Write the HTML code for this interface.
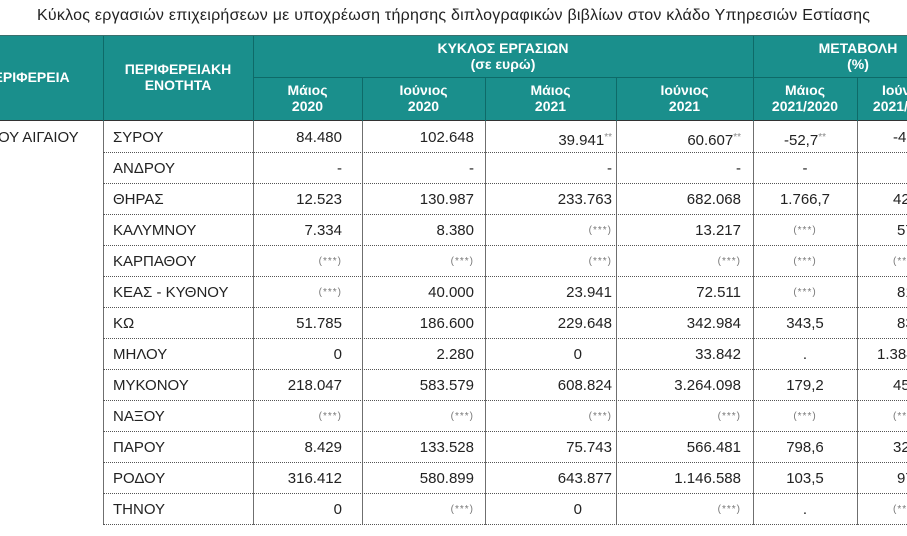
<!DOCTYPE html>
<html><head><meta charset="utf-8"><style>
body{margin:0;width:907px;height:536px;overflow:hidden;background:#fff;position:relative;font-family:"Liberation Sans",sans-serif;color:#222}
.a{position:absolute;white-space:nowrap}
.h{position:absolute;color:#fff;font-weight:bold;font-size:14px;text-align:center;line-height:16px}
.v{position:absolute;width:1px;background:#6f6f6f}
.hl{position:absolute;left:103px;width:820px;height:0;border-top:1px dotted #555}
.r{position:absolute;height:31px;line-height:31px;font-size:15px}
.s{font-size:10px;color:#888;vertical-align:5px}
.st{font-size:10px;color:#777;letter-spacing:1px}
</style></head><body>
<svg class="a" style="left:0;top:0" width="907" height="30"><text x="37" y="20" textLength="833" font-family="Liberation Sans" font-size="16" fill="#222">Κύκλος εργασιών επιχειρήσεων με υποχρέωση τήρησης διπλογραφικών βιβλίων στον κλάδο Υπηρεσιών Εστίασης</text></svg>
<div class="a" style="left:0;top:36px;width:907px;height:85px;background:#1a8f8c"></div>
<div class="a" style="left:0;top:35px;width:907px;height:1px;background:#3a6f6d"></div>
<div class="a" style="left:253px;top:77px;width:654px;height:1px;background:#0e6a68"></div>
<div class="a" style="left:0;top:120px;width:907px;height:1px;background:#333"></div>
<div class="a" style="left:103px;top:36px;width:1px;height:85px;background:#0e6a68"></div>
<div class="a" style="left:253px;top:36px;width:1px;height:85px;background:#0e6a68"></div>
<div class="a" style="left:753px;top:36px;width:1px;height:85px;background:#0e6a68"></div>
<div class="a" style="left:362px;top:78px;width:1px;height:43px;background:#0e6a68"></div>
<div class="a" style="left:485px;top:78px;width:1px;height:43px;background:#0e6a68"></div>
<div class="a" style="left:616px;top:78px;width:1px;height:43px;background:#0e6a68"></div>
<div class="a" style="left:857px;top:78px;width:1px;height:43px;background:#0e6a68"></div>
<div class="h" style="left:-50px;width:153px;top:69px">ΠΕΡΙΦΕΡΕΙΑ</div>
<div class="h" style="left:103px;width:150px;top:61px">ΠΕΡΙΦΕΡΕΙΑΚΗ<br>ΕΝΟΤΗΤΑ</div>
<div class="h" style="left:253px;width:500px;top:40px">ΚΥΚΛΟΣ ΕΡΓΑΣΙΩΝ<br>(σε ευρώ)</div>
<div class="h" style="left:753px;width:210px;top:40px">ΜΕΤΑΒΟΛΗ<br>(%)</div>
<div class="h" style="left:253px;width:109px;top:82px">Μάιος<br>2020</div>
<div class="h" style="left:362px;width:123px;top:82px">Ιούνιος<br>2020</div>
<div class="h" style="left:485px;width:131px;top:82px">Μάιος<br>2021</div>
<div class="h" style="left:616px;width:137px;top:82px">Ιούνιος<br>2021</div>
<div class="h" style="left:753px;width:104px;top:82px">Μάιος<br>2021/2020</div>
<div class="h" style="left:857px;width:98px;top:82px">Ιούνιος<br>2021/2020</div>
<div class="v" style="left:103px;top:121px;height:404px"></div>
<div class="v" style="left:253px;top:121px;height:404px"></div>
<div class="v" style="left:362px;top:121px;height:404px"></div>
<div class="v" style="left:485px;top:121px;height:404px"></div>
<div class="v" style="left:616px;top:121px;height:404px"></div>
<div class="v" style="left:753px;top:121px;height:404px"></div>
<div class="v" style="left:857px;top:121px;height:404px"></div>
<div class="hl" style="top:152px"></div><div class="hl" style="top:183px"></div><div class="hl" style="top:214px"></div><div class="hl" style="top:245px"></div><div class="hl" style="top:276px"></div><div class="hl" style="top:307px"></div><div class="hl" style="top:338px"></div><div class="hl" style="top:369px"></div><div class="hl" style="top:400px"></div><div class="hl" style="top:431px"></div><div class="hl" style="top:462px"></div><div class="hl" style="top:493px"></div><div class="hl" style="top:524px"></div>
<div class="r" style="left:-2px;top:122px">ΟΥ ΑΙΓΑΙΟΥ</div>
<div class="r" style="left:113px;top:122px">ΣΥΡΟΥ</div>
<div class="r" style="left:113px;top:153px">ΑΝΔΡΟΥ</div>
<div class="r" style="left:113px;top:184px">ΘΗΡΑΣ</div>
<div class="r" style="left:113px;top:215px">ΚΑΛΥΜΝΟΥ</div>
<div class="r" style="left:113px;top:246px">ΚΑΡΠΑΘΟΥ</div>
<div class="r" style="left:113px;top:277px">ΚΕΑΣ - ΚΥΘΝΟΥ</div>
<div class="r" style="left:113px;top:308px">ΚΩ</div>
<div class="r" style="left:113px;top:339px">ΜΗΛΟΥ</div>
<div class="r" style="left:113px;top:370px">ΜΥΚΟΝΟΥ</div>
<div class="r" style="left:113px;top:401px">ΝΑΞΟΥ</div>
<div class="r" style="left:113px;top:432px">ΠΑΡΟΥ</div>
<div class="r" style="left:113px;top:463px">ΡΟΔΟΥ</div>
<div class="r" style="left:113px;top:494px">ΤΗΝΟΥ</div>
<div class="r" style="right:565px;top:122px">84.480</div>
<div class="r" style="right:565px;top:153px">-</div>
<div class="r" style="right:565px;top:184px">12.523</div>
<div class="r" style="right:565px;top:215px">7.334</div>
<div class="r st" style="right:565px;top:246px">(***)</div>
<div class="r st" style="right:565px;top:277px">(***)</div>
<div class="r" style="right:565px;top:308px">51.785</div>
<div class="r" style="right:565px;top:339px">0</div>
<div class="r" style="right:565px;top:370px">218.047</div>
<div class="r st" style="right:565px;top:401px">(***)</div>
<div class="r" style="right:565px;top:432px">8.429</div>
<div class="r" style="right:565px;top:463px">316.412</div>
<div class="r" style="right:565px;top:494px">0</div>
<div class="r" style="right:433px;top:122px">102.648</div>
<div class="r" style="right:433px;top:153px">-</div>
<div class="r" style="right:433px;top:184px">130.987</div>
<div class="r" style="right:433px;top:215px">8.380</div>
<div class="r st" style="right:433px;top:246px">(***)</div>
<div class="r" style="right:433px;top:277px">40.000</div>
<div class="r" style="right:433px;top:308px">186.600</div>
<div class="r" style="right:433px;top:339px">2.280</div>
<div class="r" style="right:433px;top:370px">583.579</div>
<div class="r st" style="right:433px;top:401px">(***)</div>
<div class="r" style="right:433px;top:432px">133.528</div>
<div class="r" style="right:433px;top:463px">580.899</div>
<div class="r st" style="right:433px;top:494px">(***)</div>
<div class="r" style="right:295px;top:122px">39.941<span class="s">**</span></div>
<div class="r" style="right:295px;top:153px">-</div>
<div class="r" style="right:295px;top:184px">233.763</div>
<div class="r st" style="right:295px;top:215px">(***)</div>
<div class="r st" style="right:295px;top:246px">(***)</div>
<div class="r" style="right:295px;top:277px">23.941</div>
<div class="r" style="right:295px;top:308px">229.648</div>
<div class="r" style="right:325px;top:339px">0</div>
<div class="r" style="right:295px;top:370px">608.824</div>
<div class="r st" style="right:295px;top:401px">(***)</div>
<div class="r" style="right:295px;top:432px">75.743</div>
<div class="r" style="right:295px;top:463px">643.877</div>
<div class="r" style="right:325px;top:494px">0</div>
<div class="r" style="right:166px;top:122px">60.607<span class="s">**</span></div>
<div class="r" style="right:166px;top:153px">-</div>
<div class="r" style="right:166px;top:184px">682.068</div>
<div class="r" style="right:166px;top:215px">13.217</div>
<div class="r st" style="right:166px;top:246px">(***)</div>
<div class="r" style="right:166px;top:277px">72.511</div>
<div class="r" style="right:166px;top:308px">342.984</div>
<div class="r" style="right:166px;top:339px">33.842</div>
<div class="r" style="right:166px;top:370px">3.264.098</div>
<div class="r st" style="right:166px;top:401px">(***)</div>
<div class="r" style="right:166px;top:432px">566.481</div>
<div class="r" style="right:166px;top:463px">1.146.588</div>
<div class="r st" style="right:166px;top:494px">(***)</div>
<div class="r" style="left:753px;width:104px;text-align:center;top:122px">-52,7<span class="s">**</span></div>
<div class="r" style="left:753px;width:104px;text-align:center;top:153px">-</div>
<div class="r" style="left:753px;width:104px;text-align:center;top:184px">1.766,7</div>
<div class="r st" style="left:753px;width:104px;text-align:center;top:215px">(***)</div>
<div class="r st" style="left:753px;width:104px;text-align:center;top:246px">(***)</div>
<div class="r st" style="left:753px;width:104px;text-align:center;top:277px">(***)</div>
<div class="r" style="left:753px;width:104px;text-align:center;top:308px">343,5</div>
<div class="r" style="left:753px;width:104px;text-align:center;top:339px">.</div>
<div class="r" style="left:753px;width:104px;text-align:center;top:370px">179,2</div>
<div class="r st" style="left:753px;width:104px;text-align:center;top:401px">(***)</div>
<div class="r" style="left:753px;width:104px;text-align:center;top:432px">798,6</div>
<div class="r" style="left:753px;width:104px;text-align:center;top:463px">103,5</div>
<div class="r" style="left:753px;width:104px;text-align:center;top:494px">.</div>
<div class="r" style="left:893px;top:122px">-41,0</div>
<div class="r" style="left:893px;top:184px">420,8</div>
<div class="r" style="left:897px;top:215px">57,7</div>
<div class="r st" style="left:893px;top:246px">(***)</div>
<div class="r" style="left:897px;top:277px">81,2</div>
<div class="r" style="left:897px;top:308px">83,8</div>
<div class="r" style="left:877px;top:339px">1.384,3</div>
<div class="r" style="left:893px;top:370px">459,4</div>
<div class="r st" style="left:893px;top:401px">(***)</div>
<div class="r" style="left:893px;top:432px">324,2</div>
<div class="r" style="left:897px;top:463px">97,4</div>
<div class="r st" style="left:893px;top:494px">(***)</div>
</body></html>
